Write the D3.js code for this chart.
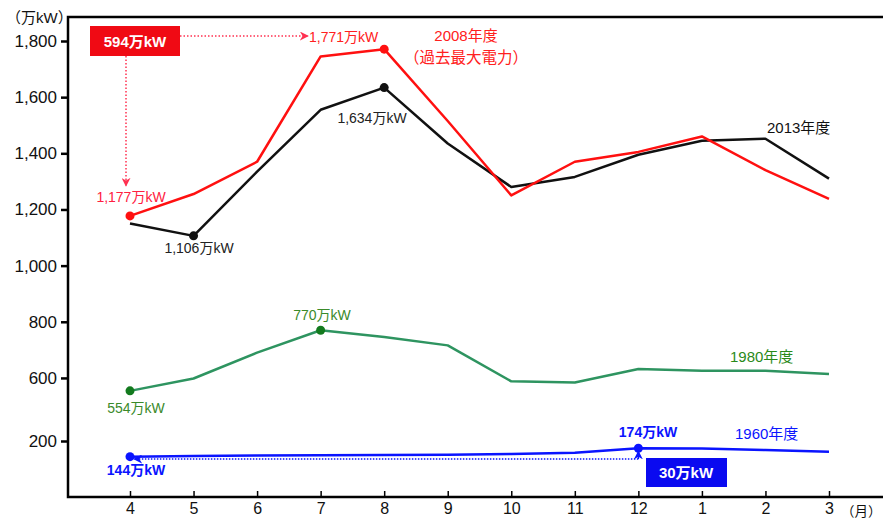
<!DOCTYPE html>
<html>
<head>
<meta charset="utf-8">
<script src="https://cdn.jsdelivr.net/npm/d3@7"></script>
<style>
  body { margin: 0; background: #fff; }
  svg text { font-family: "Liberation Sans", Arial, "Noto Sans CJK JP", sans-serif; }
</style>
</head>
<body>
<div id="chart"></div>
<script>
// months of the fiscal year, April to March
var months = ["4", "5", "6", "7", "8", "9", "10", "11", "12", "1", "2", "3"];

// peak demand per month, 万kW
var fy2008 = [1177, 1255, 1370, 1745, 1771, 1515, 1250, 1370, 1405, 1460, 1340, 1238];
var fy2013 = [1150, 1106, 1335, 1555, 1634, 1435, 1280, 1316, 1395, 1445, 1452, 1310];
var fy1980 = [554, 598, 690, 770, 746, 716, 588, 584, 632, 626, 626, 614];
var fy1960 = [144, 146, 148, 149, 150, 151, 154, 158, 174, 173, 168, 162];

var yTicks = [200, 600, 800, 1000, 1200, 1400, 1600, 1800];

(function () {
    "use strict";

    var width = 883, height = 520,
        left = 68, top = 17, bottom = 497, right = 883;

    var svg = d3.select("#chart").append("svg")
        .attr("width", width)
        .attr("height", height);

    var x = d3.scalePoint()
        .domain(months)
        .range([130, 829]);

    // broken axis: the 200-520 stretch is squeezed
    var y = d3.scaleLinear()
        .domain([0, 200, 520, 1800])
        .range([bottom, 441, 400.4, 41]);

    // frame
    svg.append("path")
        .attr("d", "M" + right + "," + top + "H" + left + "V" + bottom + "H" + right)
        .attr("fill", "none")
        .attr("stroke", "#000")
        .attr("stroke-width", 2.5);

    var yAxis = svg.append("g")
        .attr("transform", "translate(" + left + ",0)")
        .call(d3.axisLeft(y).tickValues(yTicks).tickSize(7).tickFormat(d3.format(",")));
    yAxis.select(".domain").remove();
    yAxis.selectAll("line").attr("stroke-width", 2.5);
    yAxis.selectAll("text").attr("font-size", 17).attr("fill", "#111").attr("dx", -1);

    var xAxis = svg.append("g")
        .attr("transform", "translate(0," + bottom + ")")
        .call(d3.axisBottom(x).tickSize(-6).tickPadding(6));
    xAxis.select(".domain").remove();
    xAxis.selectAll("line").attr("stroke-width", 1.5);
    xAxis.selectAll("text").attr("font-size", 16).attr("fill", "#111");

    svg.append("text").attr("x", 6).attr("y", 23)
        .attr("font-size", 15).attr("fill", "#111").text("（万kW）");
    svg.append("text").attr("x", 841).attr("y", 516)
        .attr("font-size", 13.5).attr("fill", "#111").text("（月）");

    var line = d3.line()
        .x(function (d, i) { return x(months[i]); })
        .y(function (d) { return y(d); });

    var series = [
        {data: fy1960, color: "#0a14ff", dots: [0, 8], dot: "#0a14ff"},
        {data: fy1980, color: "#2e9460", dots: [0, 3], dot: "#137a1e"},
        {data: fy2013, color: "#111", dots: [1, 4], dot: "#111"},
        {data: fy2008, color: "#ff1010", dots: [0, 4], dot: "#ff1010"}
    ];

    series.forEach(function (s) {
        svg.append("path")
            .attr("d", line(s.data))
            .attr("fill", "none")
            .attr("stroke", s.color)
            .attr("stroke-width", 2.5)
            .attr("stroke-linejoin", "round");
        svg.selectAll(null)
            .data(s.dots)
            .enter()
            .append("circle")
            .attr("cx", function (i) { return x(months[i]); })
            .attr("cy", function (i) { return y(s.data[i]); })
            .attr("r", 4.5)
            .attr("fill", s.dot);
    });

    // arrowheads
    var defs = svg.append("defs");
    [["arrRed", "#ff3050"], ["arrBlue", "#0a14ff"]].forEach(function (a) {
        defs.append("marker")
            .attr("id", a[0])
            .attr("viewBox", "0 0 10 10")
            .attr("refX", 9).attr("refY", 5)
            .attr("markerWidth", 9).attr("markerHeight", 9)
            .attr("markerUnits", "userSpaceOnUse")
            .attr("orient", "auto")
            .append("path")
            .attr("d", "M0,0L10,5L0,10L3,5Z")
            .attr("fill", a[1]);
    });

    // red difference: 1771 - 1177
    var redY = 36, redX = 126;
    svg.append("line")
        .attr("x1", 180).attr("x2", 308).attr("y1", redY).attr("y2", redY)
        .attr("stroke", "#ff3050").attr("stroke-width", 1.5)
        .attr("stroke-dasharray", "1.5,2").attr("marker-end", "url(#arrRed)");
    svg.append("line")
        .attr("x1", redX).attr("x2", redX).attr("y1", 56).attr("y2", y(fy2008[0]) - 30)
        .attr("stroke", "#ff3050").attr("stroke-width", 1.5)
        .attr("stroke-dasharray", "1.5,2").attr("marker-end", "url(#arrRed)");
    svg.append("rect").attr("x", 90).attr("y", 26).attr("width", 90).attr("height", 30)
        .attr("fill", "#f00a14");
    svg.append("text").attr("x", 135).attr("y", 47).attr("text-anchor", "middle")
        .attr("font-size", 15).attr("font-weight", "bold").attr("fill", "#fff")
        .text("594万kW");

    // blue difference: 174 - 144
    var blueY = 459;
    svg.append("line")
        .attr("x1", x(months[8])).attr("x2", x(months[0]) + 4).attr("y1", blueY).attr("y2", blueY)
        .attr("stroke", "#0a14ff").attr("stroke-width", 1.5)
        .attr("stroke-dasharray", "1.5,1.5").attr("marker-end", "url(#arrBlue)");
    svg.append("line")
        .attr("x1", x(months[8])).attr("x2", x(months[8])).attr("y1", blueY).attr("y2", y(fy1960[8]) + 3)
        .attr("stroke", "#0a14ff").attr("stroke-width", 1.5)
        .attr("marker-end", "url(#arrBlue)");
    svg.append("rect").attr("x", 646).attr("y", 458).attr("width", 81).attr("height", 29)
        .attr("fill", "#0a0af0");
    svg.append("text").attr("x", 686).attr("y", 478).attr("text-anchor", "middle")
        .attr("font-size", 15).attr("font-weight", "bold").attr("fill", "#fff")
        .text("30万kW");

    // labels
    var labels = [
        {t: "1,771万kW", x: 309, y: 42, c: "#ff2020", a: "start", s: 14},
        {t: "2008年度", x: 466, y: 41, c: "#ff2020", a: "middle", s: 15},
        {t: "（過去最大電力）", x: 466, y: 63, c: "#ff2020", a: "middle", s: 15.5},
        {t: "1,634万kW", x: 372, y: 123, c: "#222", a: "middle", s: 14},
        {t: "2013年度", x: 767, y: 133, c: "#111", a: "start", s: 15},
        {t: "1,177万kW", x: 131, y: 202, c: "#ff2040", a: "middle", s: 14},
        {t: "1,106万kW", x: 199, y: 253, c: "#222", a: "middle", s: 14},
        {t: "770万kW", x: 322, y: 320, c: "#3a8a2a", a: "middle", s: 14},
        {t: "1980年度", x: 730, y: 362, c: "#2a8a1a", a: "start", s: 15},
        {t: "554万kW", x: 136, y: 413, c: "#3a8a2a", a: "middle", s: 14},
        {t: "174万kW", x: 648, y: 437, c: "#0a14ff", a: "middle", s: 14, b: true},
        {t: "1960年度", x: 735, y: 439, c: "#0a14ff", a: "start", s: 15},
        {t: "144万kW", x: 136, y: 475, c: "#0a14ff", a: "middle", s: 14, b: true}
    ];

    svg.selectAll(null)
        .data(labels)
        .enter()
        .append("text")
        .attr("x", function (d) { return d.x; })
        .attr("y", function (d) { return d.y; })
        .attr("text-anchor", function (d) { return d.a; })
        .attr("font-size", function (d) { return d.s; })
        .attr("font-weight", function (d) { return d.b ? "bold" : "normal"; })
        .attr("fill", function (d) { return d.c; })
        .text(function (d) { return d.t; });
}());
</script>
</body>
</html>
